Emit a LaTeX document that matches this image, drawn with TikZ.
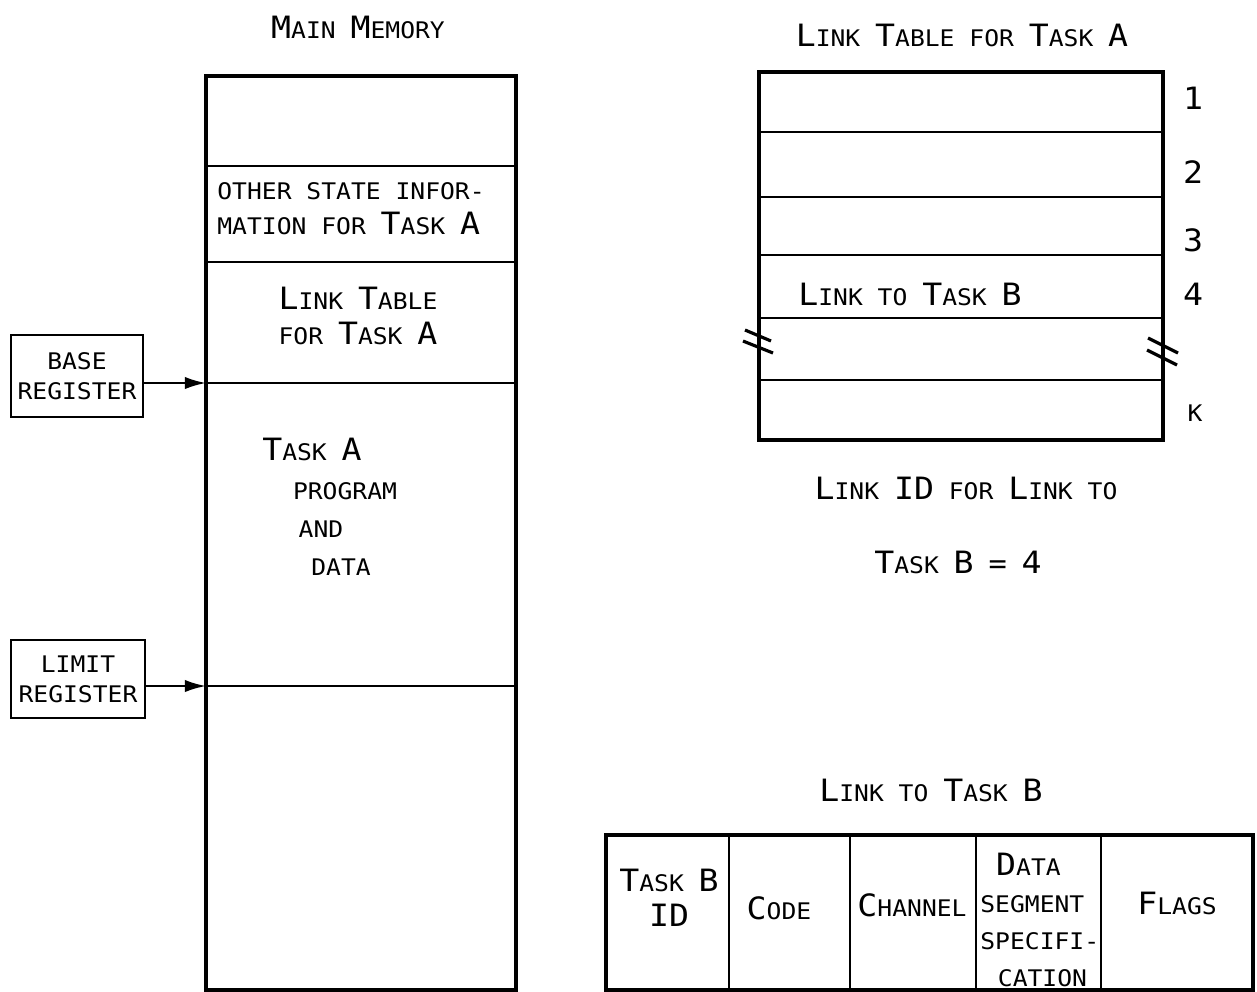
\documentclass[tikz,border=0pt]{standalone}
\usepackage{fontspec}
\setmainfont{DejaVu Sans Mono}[FakeStretch=1.08]
\usetikzlibrary{arrows.meta}

% large initial capitals of the lettering
\newcommand\bg[1]{{\fontsize{17.5}{20}\selectfont #1}}

\begin{document}
\begin{tikzpicture}[x=0.02cm,y=-0.02cm,
    txt/.style={inner sep=0pt,font=\fontsize{13}{20}\selectfont},
    reg/.style={draw,line width=1.4pt,align=center,inner sep=2pt,font=\fontsize{13}{17}\selectfont},
    ptr/.style={-{Latex[length=12pt,width=7pt]},line width=1.3pt},
    frame/.style={line width=1.9pt},
    rule/.style={line width=1.4pt},
    brk/.style={line width=1.8pt}
]
\useasboundingbox (0,0) rectangle (1257,991);

% main memory
\node[txt] (mmtitle) at (358,27) {\bg{M}AIN \bg{M}EMORY};
\draw[frame] (206,76) rectangle (516,990);
\foreach \y in {166,262,383,686}
    \draw[rule] (206,\y) -- (516,\y);
\coordinate (mmbase) at (206,383);
\coordinate (mmlimit) at (206,686);
\node[txt,anchor=west,align=left] (state) at (217,209) {OTHER STATE INFOR-\\MATION FOR \bg{T}ASK \bg{A}};
\node[txt,align=left] (ltab) at (358,316) {\bg{L}INK \bg{T}ABLE\\FOR \bg{T}ASK \bg{A}};
\node[txt] (taska) at (312,449) {\bg{T}ASK \bg{A}};
\node[txt] (prog) at (345,491) {PROGRAM};
\node[txt] (and) at (321,529) {AND};
\node[txt] (data) at (341,567) {DATA};

% registers
\node[reg,minimum width=2.64cm,minimum height=1.64cm] (base) at (77,376) {BASE\\REGISTER};
\node[reg,minimum width=2.68cm,minimum height=1.56cm] (limit) at (78,679) {LIMIT\\REGISTER};
\draw[ptr] (base.east |- mmbase) -- (mmbase);
\draw[ptr] (limit.east |- mmlimit) -- (mmlimit);

% link table for task A
\node[txt] (lttitle) at (962,35) {\bg{L}INK \bg{T}ABLE FOR \bg{T}ASK \bg{A}};
\draw[frame] (759,72) rectangle (1163,440);
\foreach \y in {132,197,255,318,380}
    \draw[rule] (759,\y) -- (1163,\y);
\node[txt] (row4) at (910,294) {\bg{L}INK TO \bg{T}ASK \bg{B}};
\node[txt] (n1) at (1193,98) {\bg{1}};
\node[txt] (n2) at (1193,172) {\bg{2}};
\node[txt] (n3) at (1193,240) {\bg{3}};
\node[txt] (n4) at (1193,294) {\bg{4}};
\node[txt] (nk) at (1195,413) {K};
% break marks
\draw[brk] (745,330) -- (771,341) (743,341) -- (773,353);
\draw[brk] (1148,338) -- (1178,353) (1147,350) -- (1177,365);
\node[txt] (linkid) at (966,488) {\bg{L}INK \bg{ID} FOR \bg{L}INK TO};
\node[txt] (eq) at (958,562) {\bg{T}ASK \bg{B} {\fontsize{16}{20}\selectfont =} \bg{4}};

% link entry
\node[txt] (lktitle) at (931,790) {\bg{L}INK TO \bg{T}ASK \bg{B}};
\draw[frame] (606,835) rectangle (1253,990);
\foreach \x in {729,850,976,1101}
    \draw[rule] (\x,835) -- (\x,990);
\node[txt,align=center] (fid) at (669,898) {\bg{T}ASK \bg{B}\\\bg{ID}};
\node[txt] (fcode) at (779,908) {\bg{C}ODE};
\node[txt] (fchan) at (912,905) {\bg{C}HANNEL};
\node[txt,anchor=north west,align=left,font=\fontsize{13}{21}\selectfont] (fseg) at (980,853)
    {\hspace*{9pt}\bg{D}ATA\\SEGMENT\\SPECIFI-\\\hspace*{10pt}CATION};
\node[txt] (fflag) at (1177,903) {\bg{F}LAGS};
\end{tikzpicture}
\end{document}
